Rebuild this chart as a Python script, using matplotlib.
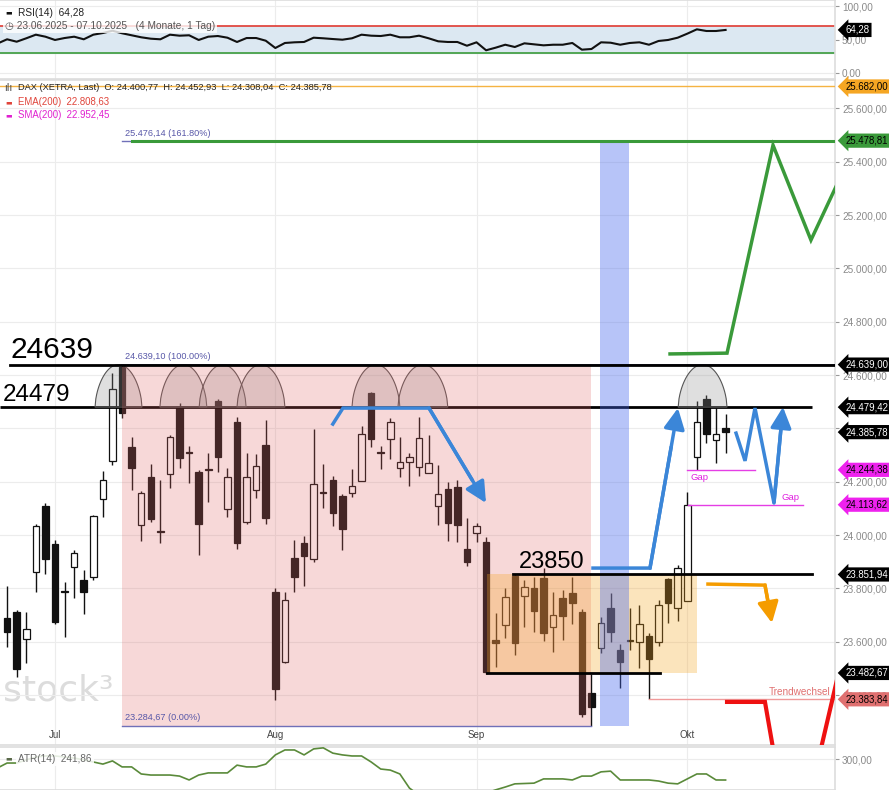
import numpy as np
import pandas as pd
import matplotlib
matplotlib.use("Agg")
import matplotlib.pyplot as plt
from matplotlib.patches import Rectangle, Polygon
from matplotlib.transforms import blended_transform_factory

plt.rcParams['font.family'] = ['Liberation Sans', 'DejaVu Sans']

# ---------------- data ----------------
dates = pd.bdate_range('2025-06-23', '2025-10-07')   # trading days, index 0..76

# candles from 2025-06-24 (index 1) to 2025-10-07 (index 76)
opens = [23689, 23711, 23610, 23861, 24109, 23966, 23790, 23880, 23831, 23842,
         24135, 24278, 24630, 24330, 24038, 24218, 24015, 24229, 24480, 24310,
         24236, 24246, 24502, 24097, 24424, 24049, 24169, 24338, 23786, 23524,
         23914, 23970, 23910, 24163, 24206, 24146, 24158, 24202, 24532, 24313,
         24360, 24251, 24274, 24255, 24232, 24109, 24172, 24180, 23948, 24008,
         23974, 23606, 23662, 23846, 23771, 23801, 23839, 23655, 23764, 23782,
         23711, 23407, 23576, 23726, 23569, 23608, 23599, 23621, 23599, 23835,
         23726, 23752, 24292, 24510, 24356, 24400.77]
highs = [23809, 23720, 23711, 24041, 24120, 23981, 23824, 23944, 23869, 24075,
         24240, 24608, 24639.10, 24368, 24165, 24266, 24206, 24375, 24495, 24334,
         24244, 24308, 24510, 24251, 24442, 24308, 24304, 24431, 23801, 23786,
         23981, 23996, 24398, 24266, 24221, 24154, 24248, 24409, 24536, 24334,
         24439, 24368, 24308, 24442, 24375, 24262, 24199, 24206, 24064, 24045,
         23993, 23708, 23801, 23852, 23831, 23842, 23876, 23786, 23794, 23842,
         23722, 23480, 23692, 23782, 23591, 23726, 23737, 23632, 23756, 23840,
         23887, 24161, 24502, 24525, 24476, 24452.93]
lows = [23580, 23467, 23520, 23786, 23854, 23665, 23617, 23764, 23704, 23831,
        24068, 24263, 24440, 24169, 23978, 24050, 23970, 24176, 24251, 24195,
        23925, 24124, 24236, 24068, 23948, 24040, 24139, 24041, 23381, 23520,
        23786, 23809, 23899, 24101, 24034, 23944, 24142, 24202, 24330, 24248,
        24285, 24218, 24184, 24221, 24232, 24038, 23978, 23974, 23884, 23974,
        23480, 23505, 23614, 23550, 23655, 23636, 23602, 23561, 23606, 23666,
        23318, 23284.67, 23557, 23599, 23426, 23569, 23501, 23383.84, 23584, 23670,
        23677, 23752, 24244.38, 24345, 24270, 24308.04]
closes = [23636, 23497, 23647, 24034, 23910, 23675, 23786, 23932, 23786, 24071,
          24206, 24548, 24458, 24251, 24158, 24060, 24011, 24368, 24289, 24306,
          24041, 24242, 24292, 24218, 23970, 24218, 24259, 24064, 23422, 23756,
          23842, 23921, 24191, 24159, 24082, 24022, 24184, 24379, 24360, 24309,
          24424, 24274, 24292, 24364, 24270, 24154, 24045, 24038, 23899, 24034,
          23486, 23595, 23767, 23595, 23805, 23715, 23632, 23700, 23696, 23745,
          23329, 23355, 23670, 23636, 23524, 23604, 23666, 23535, 23737, 23745,
          23876, 24113.62, 24424, 24379, 24379, 24385.78]

# RSI(14), index 0..76
rsi = [44.0, 50.3, 46.7, 51.8, 57.2, 54.2, 49.3, 52.2, 54.2, 50.3,
       57.2, 59.7, 63.1, 59.3, 56.3, 53.3, 51.2, 50.3, 57.2, 55.7,
       56.3, 49.3, 54.2, 55.2, 52.7, 46.3, 52.2, 52.2, 48.2, 37.3,
       44.8, 45.8, 46.3, 52.7, 51.8, 50.7, 49.7, 51.8, 57.2, 55.7,
       55.2, 57.2, 53.3, 53.3, 55.7, 51.8, 47.3, 46.3, 46.3, 40.7,
       45.8, 33.9, 37.8, 42.2, 38.8, 44.3, 42.8, 41.3, 42.2, 42.2,
       44.8, 34.8, 35.8, 45.8, 45.2, 42.2, 44.8, 45.8, 42.2, 47.8,
       49.3, 52.7, 58.7, 65.2, 62.7, 62.7, 64.28]

# ATR(14), index 0..76
atr = [276, 290, 290, 299, 307, 310, 310, 307, 304, 299,
       293, 287, 296, 279, 279, 259, 256, 256, 256, 253,
       242, 256, 262, 262, 262, 284, 279, 279, 287, 313,
       327, 327, 313, 330, 333, 318, 313, 310, 310, 293,
       273, 270, 259, 219, 199, 191, 185, 182, 185, 191,
       197, 205, 214, 222, 231, 232, 233, 245, 245, 245,
       242, 253, 253, 265, 267, 242, 242, 242, 242, 239,
       233, 231, 245, 259, 259, 242, 241.86]

# drawing-tool anchors: (bar index, price)
fib_high, fib_low, fib_ext = 24639.10, 23284.67, 25476.14
fib_start, fib_end = 13, 62
res_top, res_mid = 24639.0, 24479.42
box_top, box_bot = 23851.94, 23482.67
orange_level = 25682.0
green_level = 25478.81
trend_level = 23383.84
gap1, gap2 = 24244.38, 24113.62
arcs = [(12.63, 2.45), (19.4, 2.45), (23.5, 2.45), (27.5, 2.5),
        (39.5, 2.5), (44.4, 2.6), (73.6, 2.55)]
blue_path1 = [(35.0, 24416), (36.06, 24476), (45.04, 24476), (50.99, 24120)]
blue_path2 = [(62.16, 23876), (68.11, 23876), (71.03, 24476)]
blue_path3 = [(77.09, 24382), (78.03, 24278), (79.07, 24476), (81.05, 24120), (81.99, 24480)]
orange_path = [(74.16, 23816), (80.11, 23812), (80.84, 23670)]
green_path = [(70.2, 24679), (76.15, 24682), (80.95, 25462), (84.91, 25106), (87.7, 25320)]
red_path = [(76.15, 23374), (80.11, 23374), (81.89, 23006), (84.7, 23006), (87.94, 23505)]

# ---------------- figure ----------------
W, H = 889, 790
fig = plt.figure(figsize=(W / 100, H / 100), dpi=100)
fig.patch.set_facecolor('white')


def px_axes(x0, y0, x1, y1):
    return fig.add_axes([x0 / W, 1 - y1 / H, (x1 - x0) / W, (y1 - y0) / H])


def de(v, nd=2):
    s = f"{v:,.{nd}f}"
    return s.replace(',', 'X').replace('.', ',').replace('X', '.')


ax_rsi = px_axes(0, 0, 835, 79)
ax = px_axes(0, 80, 835, 745)
ax_atr = px_axes(0, 747, 835, 790)

XL = (0.26, 87.42)
month_idx = [int(np.where((dates.month == m))[0][0]) for m in (7, 8, 9, 10)]
month_lbl = ['Jul', 'Aug', 'Sep', 'Okt']

for a in (ax_rsi, ax, ax_atr):
    a.set_xlim(*XL)
    a.yaxis.tick_right()
    a.tick_params(axis='y', direction='out', length=3, width=0.8, colors='#999999',
                  labelsize=7.2, labelcolor='#8a8a8a', pad=2)
    a.tick_params(axis='x', length=0, labelbottom=False)
    a.set_xticks(month_idx)
    a.grid(True, color='#ececec', lw=0.8)
    a.set_axisbelow(True)
    a.spines['left'].set_visible(False)
    for s in ('top', 'bottom', 'right'):
        a.spines[s].set_color('#dddddd')
        a.spines[s].set_linewidth(1.2)

# ---------- RSI panel ----------
ax_rsi.set_ylim(-9, 109)
ax_rsi.set_yticks([0, 50, 100])
ax_rsi.set_yticklabels([de(0), de(50), de(100)])
ax_rsi.axhspan(30, 70, color='#dce8f2', zorder=1)
ax_rsi.axhline(70, color='#e03a32', lw=1.2, zorder=2)
ax_rsi.axhline(30, color='#3a9a3a', lw=1.2, zorder=2)
ax_rsi.plot(range(len(rsi)), rsi, color='#111111', lw=1.5, zorder=3)
ax_rsi.text(0.006, 0.84, '▬', transform=ax_rsi.transAxes, fontsize=5, color='#111111',
            va='center', family='DejaVu Sans')
ax_rsi.text(0.022, 0.84, 'RSI(14)  64,28', transform=ax_rsi.transAxes, fontsize=7.3,
            color='#222222', va='center')
ax_rsi.text(0.006, 0.67, '◷ 23.06.2025 - 07.10.2025   (4 Monate, 1 Tag)',
            transform=ax_rsi.transAxes, fontsize=7.3, color='#555555', va='center', zorder=6,
            bbox=dict(boxstyle='square,pad=0.15', fc='white', ec='none', alpha=0.8))

# ---------- main panel ----------
P_BOT = 24000 - (745 - 535) * 3.75
P_TOP = 24000 + (535 - 80) * 3.75
ax.set_ylim(P_BOT, P_TOP)
yt = np.arange(23400, 25601, 200)
ax.set_yticks(yt)
ax.set_yticklabels([de(v) for v in yt])

# watermark
ax.text(0.55, 23381, 'stock³', fontsize=26, color='#dcdcdc', va='baseline', ha='left',
        family='DejaVu Sans', zorder=0.5)

# candles
for k in range(len(opens)):
    x = k + 1
    o, h, l, c = opens[k], highs[k], lows[k], closes[k]
    up = c >= o
    ax.vlines(x, l, h, color='#111111', lw=1.0, zorder=2)
    bottom = min(o, c)
    height = max(abs(c - o), 4)
    ax.add_patch(Rectangle((x - 0.34, bottom), 0.68, height,
                           facecolor='white' if up else '#111111',
                           edgecolor='#111111', lw=0.9, zorder=2.1))

# 24479 line (under overlay)
ax.plot([XL[0], 85.0], [res_mid, res_mid], color='black', lw=2, zorder=2.5, solid_capstyle='butt')

# arcs
for c0, hw in arcs:
    t = np.linspace(-1, 1, 60)
    xs = c0 + hw * t
    ys = res_mid + (res_top - res_mid) * (1 - t ** 2) ** 0.6
    ax.add_patch(Polygon(np.column_stack([xs, ys]), closed=True,
                         facecolor=(0.55, 0.55, 0.55, 0.28), edgecolor='#555555', lw=0.8, zorder=2.6))

# fib area
ax.add_patch(Rectangle((fib_start, fib_low), fib_end - fib_start, fib_high - fib_low,
                       facecolor='#e06666', alpha=0.25, edgecolor='none', zorder=3))
ax.plot([fib_start, XL[1]], [fib_high, fib_high], color='#333366', lw=1.2, zorder=3.2)
ax.plot([fib_start, fib_end], [fib_low, fib_low], color='#7070b8', lw=1.0, zorder=3.2)
ax.plot([fib_start, 14.04], [fib_ext, fib_ext], color='#7070b8', lw=1.0, zorder=3.2)
ax.text(13.3, 24671, de(fib_high) + ' (100.00%)', fontsize=6.6, color='#5858a8', va='center', zorder=6)
ax.text(13.3, 23314, de(fib_low) + ' (0.00%)', fontsize=6.6, color='#5858a8', va='center', zorder=6)
ax.text(13.3, 25507, de(fib_ext) + ' (161.80%)', fontsize=6.6, color='#5858a8', va='center', zorder=6)

# orange range box
ax.add_patch(Rectangle((51.1, box_bot), 73.0 - 51.1, box_top - box_bot,
                       facecolor='#f5a623', alpha=0.3, edgecolor='none', zorder=3.1))
# blue vertical band
ax.add_patch(Rectangle((62.9, fib_low), 65.92 - 62.9, green_level - fib_low,
                       facecolor='#4466ee', alpha=0.38, edgecolor='none', zorder=3.15))

# horizontal levels
ax.axhline(orange_level, color='#f5b342', lw=1.0, zorder=4)
ax.plot([14.04, XL[1]], [green_level, green_level], color='#3a9a3a', lw=2.2, zorder=4)
ax.plot([1.3, XL[1]], [res_top, res_top], color='black', lw=2, zorder=4)
ax.plot([53.8, 85.0], [box_top, box_top], color='black', lw=2, zorder=4)
ax.plot([51.1, 69.15], [box_bot, box_bot], color='black', lw=2, zorder=4)
ax.plot([68, XL[1]], [trend_level, trend_level], color='#ef9a9a', lw=1.0, zorder=4)
ax.plot([72, 79.07], [gap1, gap1], color='#e53ee5', lw=1.0, zorder=4)
ax.plot([72.1, 84.08], [gap2, gap2], color='#e53ee5', lw=1.0, zorder=4)

ax.text(1.35, 24662, '24639', fontsize=21.5, color='black', va='baseline', zorder=6)
ax.text(0.57, 24502, '24479', fontsize=17.5, color='black', va='baseline', zorder=6)
ax.text(54.4, 23878, '23850', fontsize=17, color='black', va='baseline', zorder=6)
ax.text(72.3, 24214, 'Gap', fontsize=6.8, color='#e020e0', va='center', zorder=6)
ax.text(81.8, 24142, 'Gap', fontsize=6.8, color='#e020e0', va='center', zorder=6)
ax.text(86.9, 23412, 'Trendwechsel', fontsize=7.2, color='#e07070', va='center', ha='right', zorder=6)


def path_arrow(pts, color, lw=2.5, arrow=True):
    xs = [p[0] for p in pts]
    ys = [p[1] for p in pts]
    if arrow:
        ax.plot(xs[:-1] + [xs[-2] + 0.75 * (xs[-1] - xs[-2])],
                ys[:-1] + [ys[-2] + 0.75 * (ys[-1] - ys[-2])],
                color=color, lw=lw, zorder=5, solid_joinstyle='miter')
        ax.annotate('', xy=pts[-1], xytext=pts[-2],
                    arrowprops=dict(arrowstyle='-|>,head_length=0.9,head_width=0.45',
                                    color=color, lw=lw, shrinkA=0, shrinkB=0,
                                    mutation_scale=14), zorder=5)
    else:
        ax.plot(xs, ys, color=color, lw=lw, zorder=5, solid_joinstyle='miter')


path_arrow(blue_path1, '#3b86d8')
path_arrow(blue_path2, '#3b86d8')
path_arrow(blue_path3, '#3b86d8')
path_arrow(orange_path, '#f59c00')
path_arrow(green_path, '#3a9a3a', arrow=False)
path_arrow(red_path, '#ee1111', lw=3, arrow=False)

# legend text
ax.text(0.022, 0.988, 'DAX (XETRA, Last)  O: 24.400,77  H: 24.452,93  L: 24.308,04  C: 24.385,78',
        transform=ax.transAxes, fontsize=6.7, color='#222222', va='center', zorder=7)
ax.text(0.005, 0.988, 'ılı', transform=ax.transAxes, fontsize=7, color='#444444', va='center',
        family='DejaVu Sans', zorder=7)
ax.text(0.006, 0.967, '▬', transform=ax.transAxes, fontsize=5, color='#e0443a', va='center',
        family='DejaVu Sans')
ax.text(0.022, 0.967, 'EMA(200)  22.808,63', transform=ax.transAxes, fontsize=6.9, color='#e0443a', va='center')
ax.text(0.006, 0.947, '▬', transform=ax.transAxes, fontsize=5, color='#e020d0', va='center',
        family='DejaVu Sans')
ax.text(0.022, 0.947, 'SMA(200)  22.952,45', transform=ax.transAxes, fontsize=6.9, color='#e020d0', va='center')

# month labels
trx = blended_transform_factory(ax.transData, ax.transAxes)
for mi, ml in zip(month_idx, month_lbl):
    ax.text(mi, 0.015, ml, transform=trx, fontsize=7, color='#444444', ha='center', va='center', zorder=7)

# ---------- ATR panel ----------
ax_atr.set_ylim(213.6, 335.4)
ax_atr.set_yticks([300])
ax_atr.set_yticklabels([de(300)])
ax_atr.plot(range(len(atr)), atr, color='#5a8a3a', lw=1.2, zorder=3)
ax_atr.text(0.006, 0.73, '▬', transform=ax_atr.transAxes, fontsize=5, color='#5a6a4a', va='center',
            family='DejaVu Sans', zorder=6)
ax_atr.text(0.022, 0.73, 'ATR(14)  241,86', transform=ax_atr.transAxes, fontsize=7.2, color='#666666',
            va='center', zorder=6,
            bbox=dict(boxstyle='square,pad=0.2', fc='white', ec='none', alpha=0.85))


# ---------- right-side tags ----------
def tag(a, y, txt, fc, tc='white'):
    trn = blended_transform_factory(a.transAxes, a.transData)
    a.annotate(txt, xy=(1.0, y), xycoords=trn, xytext=(7.5, 0), textcoords='offset points',
               fontsize=6.9, color=tc, ha='left', va='center', annotation_clip=False, zorder=20,
               bbox=dict(boxstyle='larrow,pad=0.22', fc=fc, ec='none'))


tag(ax_rsi, 64.28, '64,28', 'black')
tag(ax, orange_level, de(orange_level), '#f5a623', 'black')
tag(ax, green_level, de(green_level), '#3a9a3a', 'black')
tag(ax, res_top, de(res_top), 'black')
tag(ax, res_mid, de(res_mid), 'black')
tag(ax, closes[-1], de(closes[-1]), 'black')
tag(ax, gap1, de(gap1), '#ee22ee', 'black')
tag(ax, gap2, de(gap2), '#ee22ee', 'black')
tag(ax, box_top, de(box_top), 'black')
tag(ax, box_bot, de(box_bot), 'black')
tag(ax, trend_level, de(trend_level), '#e07070', 'black')

fig.savefig('out.png', dpi=100)
